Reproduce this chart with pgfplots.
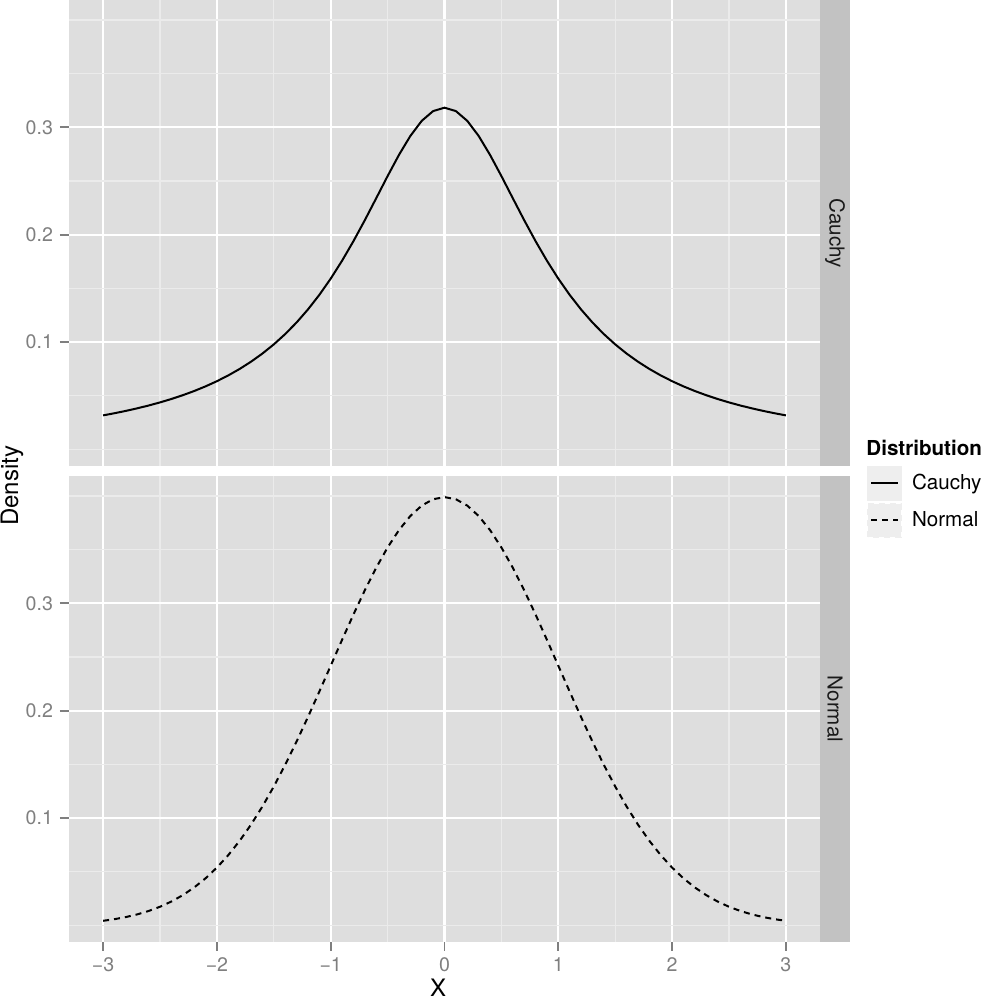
\documentclass[border=0pt]{standalone}
\usepackage{fontspec}
\setmainfont{TeX Gyre Heros}
\usepackage{pgfplots}
\pgfplotsset{compat=1.18}
\usepackage{pgfplotstable}
\definecolor{panelbg}{HTML}{DEDEDE}
\definecolor{stripbg}{HTML}{C2C2C2}
\definecolor{keybg}{HTML}{EEEEEE}
\definecolor{minorgrid}{HTML}{EBEBEB}
\definecolor{grey50}{HTML}{7F7F7F}
\definecolor{grey10}{HTML}{1A1A1A}

\pgfplotstableread{
x cauchy normal
-3.0 0.031831 0.004432
-2.9 0.033827 0.005953
-2.8 0.036008 0.007915
-2.7 0.038397 0.010421
-2.6 0.041019 0.013583
-2.5 0.043905 0.017528
-2.4 0.047087 0.022395
-2.3 0.050606 0.028327
-2.2 0.054505 0.035475
-2.1 0.058837 0.043984
-2.0 0.063662 0.053991
-1.9 0.069048 0.065616
-1.8 0.075073 0.078950
-1.7 0.081828 0.094049
-1.6 0.089413 0.110921
-1.5 0.097942 0.129518
-1.4 0.107537 0.149727
-1.3 0.118331 0.171369
-1.2 0.130455 0.194186
-1.1 0.144032 0.217852
-1.0 0.159155 0.241971
-0.9 0.175862 0.266085
-0.8 0.194092 0.289692
-0.7 0.213631 0.312254
-0.6 0.234051 0.333225
-0.5 0.254648 0.352065
-0.4 0.274405 0.368270
-0.3 0.292028 0.381388
-0.2 0.306067 0.391043
-0.1 0.315158 0.396953
0.0 0.318310 0.398942
0.1 0.315158 0.396953
0.2 0.306067 0.391043
0.3 0.292028 0.381388
0.4 0.274405 0.368270
0.5 0.254648 0.352065
0.6 0.234051 0.333225
0.7 0.213631 0.312254
0.8 0.194092 0.289692
0.9 0.175862 0.266085
1.0 0.159155 0.241971
1.1 0.144032 0.217852
1.2 0.130455 0.194186
1.3 0.118331 0.171369
1.4 0.107537 0.149727
1.5 0.097942 0.129518
1.6 0.089413 0.110921
1.7 0.081828 0.094049
1.8 0.075073 0.078950
1.9 0.069048 0.065616
2.0 0.063662 0.053991
2.1 0.058837 0.043984
2.2 0.054505 0.035475
2.3 0.050606 0.028327
2.4 0.047087 0.022395
2.5 0.043905 0.017528
2.6 0.041019 0.013583
2.7 0.038397 0.010421
2.8 0.036008 0.007915
2.9 0.033827 0.005953
3.0 0.031831 0.004432
}\densdata

\pgfplotsset{
  panel/.style={
    scale only axis, width=375.5pt, height=233pt,
    xmin=-3.3, xmax=3.3, ymin=-0.0153, ymax=0.4186,
    axis background/.style={fill=panelbg},
    axis line style={draw=none},
    xtick={-3,-2,-1,0,1,2,3}, ytick={0.1,0.2,0.3},
    minor xtick={-2.5,-1.5,-0.5,0.5,1.5,2.5},
    minor ytick={0,0.05,0.15,0.25,0.35,0.4},
    grid=both,
    major grid style={white, line width=1.1pt},
    minor grid style={minorgrid, line width=0.6pt},
    tick align=outside, tick pos=left,
    major tick length=4.5pt, minor tick length=0pt,
    tick style={grey50, line width=0.9pt},
    yticklabels={0.1,0.2,0.3},
    ticklabel style={font=\fontsize{9.8}{11}\selectfont, text=grey50},
  }
}

\begin{document}
\begin{tikzpicture}
\useasboundingbox (0,0) rectangle (491pt,500pt);
\begin{axis}[panel, at={(34.5pt,267pt)}, anchor=south west,
  xticklabels={}, xtick style={draw=none}]
  \addplot[black, line width=1pt] table[x=x, y=cauchy] {\densdata};
\end{axis}
\begin{axis}[panel, at={(34.5pt,29pt)}, anchor=south west,
  xticklabels={−3,−2,−1,0,1,2,3},
  legend style={at={(1.0626,1.0215)}, anchor=north west, draw=none, fill=none,
    inner sep=0pt, outer sep=0pt, row sep=1pt, column sep=3pt,
    font=\fontsize{10.3}{12}\selectfont, cells={anchor=west}},
  legend image code/.code={\fill[keybg] (0pt,-8.25pt) rectangle (16.5pt,8.25pt);
    \draw[#1] (1.5pt,0pt) -- (15pt,0pt);}]
  \addlegendimage{black, line width=1pt}
  \addlegendentry{Cauchy}
  \addplot[black, line width=1pt, dash pattern=on 3pt off 2.5pt] table[x=x, y=normal] {\densdata};
  \addlegendentry{Normal}
\end{axis}
\fill[stripbg] (410pt,267pt) rectangle (425pt,500pt);
\fill[stripbg] (410pt,29pt) rectangle (425pt,262pt);
\node[rotate=-90, text=grey10, font=\fontsize{10.3}{12}\selectfont] at (417.5pt,383.5pt) {Cauchy};
\node[rotate=-90, text=grey10, font=\fontsize{10.3}{12}\selectfont] at (417.5pt,145.5pt) {Normal};
\node[rotate=90, font=\fontsize{12}{14}\selectfont] at (6pt,257pt) {Density};
\node[font=\fontsize{12}{14}\selectfont] at (219pt,6pt) {X};
\node[anchor=west, inner sep=0pt, font=\fontsize{10.3}{12}\selectfont\bfseries] at (433pt,276pt) {Distribution};
\end{tikzpicture}
\end{document}
